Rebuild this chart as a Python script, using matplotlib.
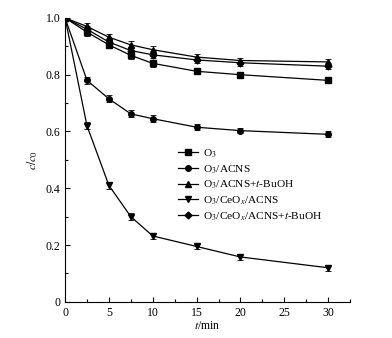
import numpy as np
import matplotlib
matplotlib.use('Agg')
import matplotlib.pyplot as plt
from matplotlib.ticker import MultipleLocator

plt.rcParams['font.family'] = 'Liberation Serif'
plt.rcParams['mathtext.fontset'] = 'stix'
plt.rcParams['font.size'] = 8.5

t = [0, 2.5, 5, 7.5, 10, 15, 20, 30]
o3 = [1.0, 0.95, 0.905, 0.868, 0.84, 0.812, 0.80, 0.78]
o3_acns = [1.0, 0.78, 0.715, 0.662, 0.645, 0.615, 0.603, 0.59]
o3_acns_tbuoh = [1.0, 0.97, 0.932, 0.905, 0.888, 0.862, 0.85, 0.845]
o3_ceox_acns = [1.0, 0.62, 0.41, 0.30, 0.232, 0.195, 0.158, 0.12]
o3_ceox_acns_tbuoh = [1.0, 0.96, 0.915, 0.885, 0.87, 0.852, 0.842, 0.83]
err = [0.0, 0.012, 0.012, 0.012, 0.012, 0.01, 0.01, 0.01]

series = [
    (o3, 's', r'O$_3$'),
    (o3_acns, 'o', r'O$_3$/ACNS'),
    (o3_acns_tbuoh, '^', r'O$_3$/ACNS+$t$-BuOH'),
    (o3_ceox_acns, 'v', r'O$_3$/CeO$_x$/ACNS'),
    (o3_ceox_acns_tbuoh, 'D', r'O$_3$/CeO$_x$/ACNS+$t$-BuOH'),
]

fig = plt.figure(figsize=(3.92, 3.38), dpi=100)
ax = fig.add_axes([0.166, 0.107, 0.727, 0.84])

handles = []
for vals, mk, lab in series:
    ms = 4 if mk != 'D' else 3.5
    eb = ax.errorbar(t, vals, yerr=err, color='black', marker=mk, markersize=ms,
                     linewidth=0.9, elinewidth=0.6, capsize=2, capthick=0.6,
                     label=lab)
    handles.append(eb[0])

ax.set_xlim(0, 32.5)
ax.set_ylim(0, 1.0)
ax.xaxis.set_major_locator(MultipleLocator(5))
ax.xaxis.set_minor_locator(MultipleLocator(2.5))
ax.yaxis.set_major_locator(MultipleLocator(0.2))
ax.yaxis.set_minor_locator(MultipleLocator(0.1))
ax.yaxis.set_major_formatter(plt.FuncFormatter(lambda v, p: '0' if v == 0 else f'{v:.1f}'))
ax.tick_params(which='both', direction='in', width=0.8)
ax.tick_params(which='major', length=3.5)
ax.tick_params(which='minor', length=2)
ax.spines['top'].set_visible(False)
ax.spines['right'].set_visible(False)

ax.set_xlabel(r'$t$/min', labelpad=1)
ax.set_ylabel(r'$c/c_0$', labelpad=4)

ax.legend(handles, [s[2] for s in series], loc='upper left',
          bbox_to_anchor=(0.38, 0.56), frameon=False,
          handlelength=1.8, handletextpad=0.4, labelspacing=0.28,
          borderaxespad=0, fontsize=8.2)

fig.savefig('out.png', dpi=100)
